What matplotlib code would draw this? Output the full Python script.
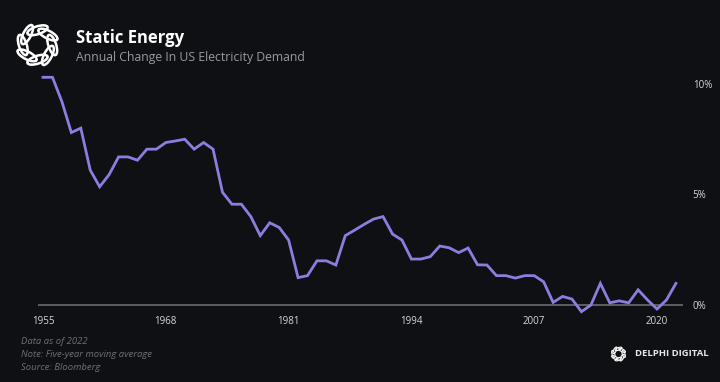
import numpy as np
import matplotlib.pyplot as plt
from matplotlib.patches import Ellipse

# annual change in US electricity demand (five-year moving average), %
years = list(range(1955, 2023))
demand_change = [10.3, 10.3, 9.2, 7.8, 8.0, 6.1, 5.35, 5.9, 6.7, 6.7,
                 6.55, 7.05, 7.05, 7.35, 7.42, 7.5, 7.05, 7.35, 7.05, 5.1,
                 4.56, 4.56, 4.0, 3.14, 3.72, 3.51, 2.94, 1.24, 1.33, 2.0,
                 2.0, 1.81, 3.14, 3.39, 3.65, 3.89, 4.0, 3.21, 2.94, 2.08,
                 2.08, 2.19, 2.67, 2.59, 2.37, 2.58, 1.82, 1.81, 1.33, 1.33,
                 1.22, 1.33, 1.33, 1.05, 0.12, 0.39, 0.27, -0.3, 0.0, 0.98,
                 0.1, 0.19, 0.1, 0.69, 0.23, -0.18, 0.23, 0.98]
x_ticks = [1955, 1968, 1981, 1994, 2007, 2020]
y_ticks = [0, 5, 10]
y_labels = ["0%", "5%", "10%"]

bg = "#0f1013"
line_color = "#8a7ee0"
W, H = 720, 382

fig = plt.figure(figsize=(7.2, 3.82), dpi=100, facecolor=bg)
plt.rcParams['font.family'] = ['Open Sans', 'DejaVu Sans']


def fx(px):
    return px / W


def fy(py):
    return 1 - py / H


# main axes (placed in pixel coords)
left, right, top, bottom = 38, 683, 70, 315
ax = fig.add_axes([fx(left), fy(bottom), fx(right - left), (bottom - top) / H])
ax.set_facecolor(bg)
ax.plot(years, demand_change, color=line_color, lw=2.0, clip_on=False,
        solid_joinstyle="miter", zorder=3)
ax.axhline(0, color="#6b6c70", lw=1.2, zorder=2)
ax.set_xlim(1954.47, 2022.75)
ax.set_ylim(-0.45, 10.63)
for s in ax.spines.values():
    s.set_visible(False)
ax.set_xticks(x_ticks)
ax.set_xticklabels([str(y) for y in x_ticks])
ax.set_yticks(y_ticks)
ax.set_yticklabels(y_labels)
ax.yaxis.tick_right()
ax.tick_params(axis="both", length=0, colors="#d8d8d8", labelsize=7)
ax.tick_params(axis="x", pad=1)
ax.tick_params(axis="y", pad=7)

# title block
fig.text(fx(76), fy(43), "Static Energy", color="white", fontsize=12,
         fontweight="bold", va="baseline")
fig.text(fx(76), fy(61), "Annual Change In US Electricity Demand",
         color="#9a9a9e", fontsize=8.8, va="baseline")

# footer notes
for i, note in enumerate(["Data as of 2022", "Note: Five-year moving average",
                          "Source: Bloomberg"]):
    fig.text(fx(21), fy(344 + i * 13), note, color="#6f7075", fontsize=6.8,
             style="italic", va="baseline")


def draw_logo(cx, cy, r, lw):
    lax = fig.add_axes([fx(cx - r), fy(cy + r), 2 * r / W, 2 * r / H])
    lax.set_xlim(-1, 1)
    lax.set_ylim(-1, 1)
    lax.axis("off")
    for k in range(8):
        a = np.pi * 2 * k / 8
        e = Ellipse((0.64 * np.cos(a), 0.64 * np.sin(a)), 0.92, 0.34,
                    angle=np.degrees(a) + 90 + 18, fill=False,
                    ec="white", lw=lw)
        lax.add_patch(e)


draw_logo(37.5, 45, 23, 1.8)
draw_logo(618.5, 354, 8, 0.8)
fig.text(fx(635), fy(354), "DELPHI DIGITAL", color="#e8e8e8", fontsize=6.8,
         fontweight="bold", va="center")

fig.savefig("out.png", dpi=100, facecolor=bg)
